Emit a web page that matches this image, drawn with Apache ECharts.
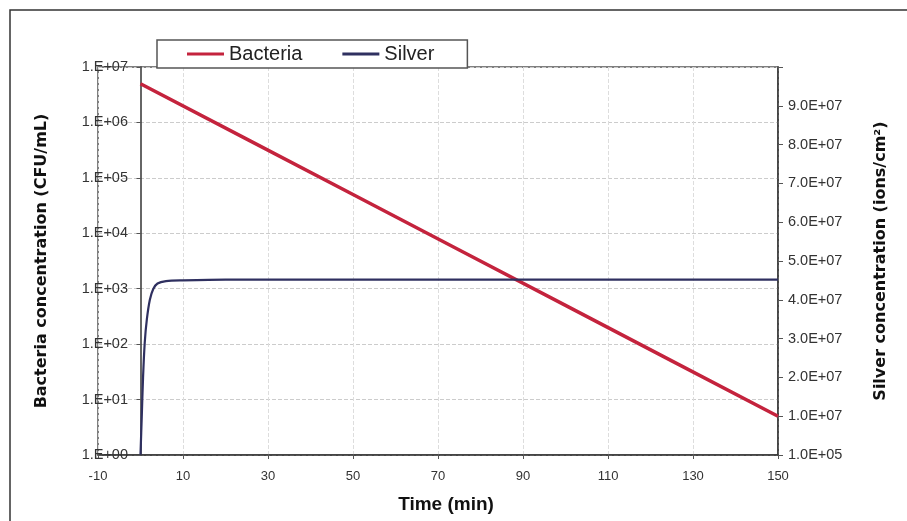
<!DOCTYPE html>
<html>
<head>
<meta charset="utf-8">
<script src="https://cdn.jsdelivr.net/npm/echarts@6/dist/echarts.min.js"></script>
<style>
  html, body { margin: 0; padding: 0; background: #fff; }
  #chart { width: 907px; height: 521px; }
</style>
</head>
<body>
<div id="chart"></div>
<script>
// values
var timeTicks = [-10, 10, 30, 50, 70, 90, 110, 130, 150];
var bacteriaTime = [0, 25, 50, 75, 100, 125, 150];
var bacteriaCfu = [5.0e6, 5.0e5, 5.0e4, 5.0e3, 5.0e2, 50, 5];
var silverTime = [0, 0.3, 0.6, 1, 1.5, 2.2, 3, 4, 6, 10, 20, 150];
var silverIons = [1e5, 1.0e7, 2.0e7, 2.9e7, 3.5e7, 4.0e7, 4.28e7, 4.42e7, 4.48e7, 4.5e7, 4.52e7, 4.52e7];

var chart = echarts.init(document.getElementById('chart'));

var labelFont = { color: '#333', fontSize: 13, fontFamily: 'Liberation Sans, Arial, sans-serif' };
var yLabelFont = { color: '#333', fontSize: 14.5, fontFamily: 'Liberation Sans, Arial, sans-serif' };
var titleFont = { color: '#111', fontSize: 16, fontWeight: 'bold', fontFamily: 'DejaVu Sans, sans-serif' };

var option = {
  backgroundColor: '#fff',
  animation: false,
  graphic: [{
    type: 'rect',
    shape: { x: 10, y: 10, width: 1000, height: 700 },
    style: { fill: 'none', stroke: '#333', lineWidth: 1.5 },
    z: -1
  }],
  legend: {
    left: 157,
    top: 40,
    itemWidth: 37,
    itemHeight: 3,
    itemGap: 40,
    padding: [3, 33, 3, 30],
    backgroundColor: '#fff',
    borderColor: '#555',
    borderWidth: 1.5,
    textStyle: { color: '#222', fontSize: 20, fontFamily: 'Liberation Sans, Arial, sans-serif', lineHeight: 22 },
    data: [
      { name: 'Bacteria', icon: 'rect' },
      { name: 'Silver', icon: 'rect' }
    ],
    z: 10
  },
  grid: {
    left: 98, right: 129, top: 67, bottom: 66,
    outerBoundsMode: 'none',
    containLabel: false,
    show: true,
    borderColor: '#555',
    borderWidth: 1.5
  },
  xAxis: {
    type: 'value',
    min: -10,
    max: 150,
    name: 'Time (min)',
    nameLocation: 'middle',
    nameGap: 40,
    nameMoveOverlap: false,
    nameTextStyle: { color: '#111', fontSize: 19, fontWeight: 'bold', fontFamily: 'Liberation Sans, Arial, sans-serif', padding: [0, 0, 0, 16] },
    axisLine: { onZero: false, lineStyle: { color: '#333', width: 1.5 } },
    axisTick: { customValues: timeTicks, length: 4, lineStyle: { color: '#555' } },
    axisLabel: Object.assign({ customValues: timeTicks, margin: 15 }, labelFont),
    splitLine: { show: true, lineStyle: { color: '#ddd', type: 'dashed' } }
  },
  yAxis: [{
    type: 'log',
    logBase: 10,
    min: 1,
    max: 1e7,
    name: 'Bacteria concentration (CFU/mL)',
    nameLocation: 'middle',
    nameRotate: 90,
    nameGap: 48,
    nameMoveOverlap: false,
    nameTextStyle: titleFont,
    axisLine: { show: true, onZero: true, onZeroAxisIndex: 0, lineStyle: { color: '#333', width: 1.5 } },
    axisTick: { show: true, length: 4, lineStyle: { color: '#555' } },
    axisLabel: Object.assign({
      margin: -30,
      formatter: function (v) {
        var e = Math.round(Math.log10(v));
        return '1.E+' + (e < 10 ? '0' : '') + e;
      }
    }, yLabelFont),
    splitLine: { show: true, lineStyle: { color: '#ccc', type: 'dashed' } }
  }, {
    type: 'value',
    position: 'right',
    min: 0,
    max: 1e8,
    interval: 1e7,
    name: 'Silver concentration (ions/cm²)',
    nameLocation: 'middle',
    nameRotate: 90,
    nameGap: 95,
    nameMoveOverlap: false,
    nameTextStyle: titleFont,
    axisLine: { show: true, onZero: false, lineStyle: { color: '#333', width: 1.5 } },
    axisTick: { show: true, length: 5, lineStyle: { color: '#555' } },
    axisLabel: Object.assign({
      margin: 10,
      formatter: function (v) {
        if (v === 0) return '1.0E+05';
        if (v >= 1e8) return '';
        return (v / 1e7).toFixed(1) + 'E+07';
      }
    }, yLabelFont),
    splitLine: { show: false }
  }],
  series: [{
    name: 'Bacteria',
    type: 'line',
    yAxisIndex: 0,
    symbol: 'none',
    data: bacteriaTime.map(function (t, i) { return [t, bacteriaCfu[i]]; }),
    lineStyle: { color: '#c4233d', width: 3.5 },
    itemStyle: { color: '#c4233d' },
    z: 3
  }, {
    name: 'Silver',
    type: 'line',
    yAxisIndex: 1,
    symbol: 'none',
    smooth: 0.3,
    data: silverTime.map(function (t, i) { return [t, silverIons[i]]; }),
    lineStyle: { color: '#2f3060', width: 2.2 },
    itemStyle: { color: '#2f3060' },
    z: 4
  }]
};

chart.setOption(option);
</script>
</body>
</html>
